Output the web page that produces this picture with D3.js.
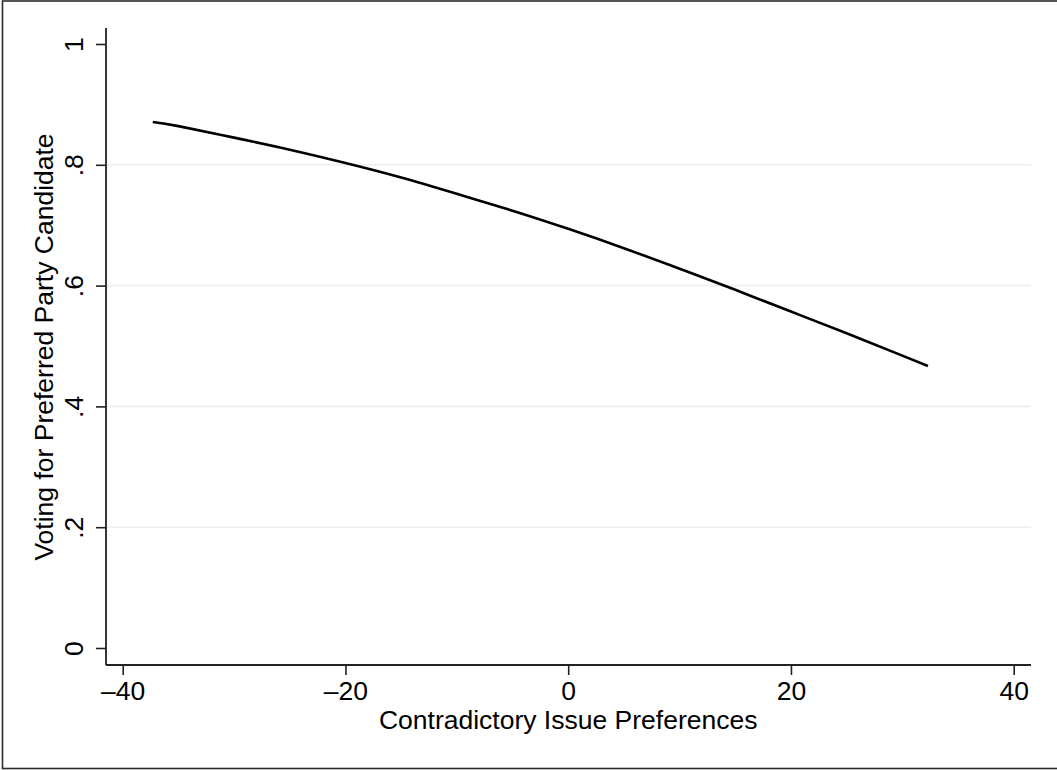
<!DOCTYPE html>
<html>
<head>
<meta charset="utf-8">
<script src="https://cdn.jsdelivr.net/npm/d3@7"></script>
<style>
  html, body { margin: 0; padding: 0; background: #fff; }
  svg { display: block; }
  text { font-family: "Liberation Sans", Arial, Helvetica, sans-serif; fill: #000; }
</style>
</head>
<body>
<svg id="chart" width="1057" height="770"></svg>
<script>
// ---- data ----
const xValues = [-37.3, -35, -30, -25, -20, -15, -10, -5, 0, 5, 10, 15, 20, 25, 30, 32.3];
const yValues = [0.871, 0.864, 0.845, 0.825, 0.803, 0.779, 0.752, 0.724, 0.694, 0.662, 0.628, 0.593, 0.557, 0.521, 0.484, 0.467];
const xTicks = [-40, -20, 0, 20, 40];
const yTicks = [0, 0.2, 0.4, 0.6, 0.8, 1];
const yTickLabels = ["0", ".2", ".4", ".6", ".8", "1"];
const gridTicks = [0.2, 0.4, 0.6, 0.8];
const xTitle = "Contradictory Issue Preferences";
const yTitle = "Voting for Preferred Party Candidate";

// ---- layout ----
const W = 1057, H = 770;
const plotLeft = 106, plotRight = 1031, plotTop = 28, plotBottom = 665;
const fontSize = 26.5;

const svg = d3.select("#chart");

// outer border (right edge cropped in the reference)
svg.append("rect")
  .attr("x", 2.5).attr("y", 1)
  .attr("width", W + 10).attr("height", 767.5)
  .attr("fill", "#fff").attr("stroke", "#2b2b2b").attr("stroke-width", 1.6);

const x = d3.scaleLinear().domain([-40, 40]).range([122.7, 1013.7]);
const y = d3.scaleLinear().domain([0, 1]).range([648, 44]);

// grid lines
svg.append("g").selectAll("line").data(gridTicks).join("line")
  .attr("x1", plotLeft).attr("x2", plotRight)
  .attr("y1", d => y(d)).attr("y2", d => y(d))
  .attr("stroke", "#e8f0f2").attr("stroke-width", 1.6);

// y axis
const yAxis = d3.axisLeft(y).tickValues(yTicks)
  .tickFormat((d, i) => yTickLabels[i]).tickSize(10).tickSizeOuter(0);
const gy = svg.append("g").attr("transform", `translate(${plotLeft},0)`).call(yAxis);
gy.select(".domain").remove();
gy.selectAll(".tick line").attr("stroke", "#222").attr("stroke-width", 1.6);
gy.selectAll(".tick text")
  .attr("font-size", fontSize)
  .attr("x", 0).attr("dy", null)
  .attr("text-anchor", "middle")
  .attr("transform", "translate(-23,0) rotate(-90)");
svg.append("line")
  .attr("x1", plotLeft).attr("x2", plotLeft)
  .attr("y1", plotTop).attr("y2", plotBottom)
  .attr("stroke", "#222").attr("stroke-width", 1.8);

// x axis
const xAxis = d3.axisBottom(x).tickValues(xTicks)
  .tickFormat(d => d < 0 ? "\u2013" + Math.abs(d) : String(d)).tickSize(10).tickSizeOuter(0);
const gx = svg.append("g").attr("transform", `translate(0,${plotBottom})`).call(xAxis);
gx.select(".domain").remove();
gx.selectAll(".tick line").attr("stroke", "#222").attr("stroke-width", 1.6);
gx.selectAll(".tick text")
  .attr("font-size", fontSize)
  .attr("y", 35).attr("dy", null);
svg.append("line")
  .attr("x1", plotLeft).attr("x2", plotRight)
  .attr("y1", plotBottom).attr("y2", plotBottom)
  .attr("stroke", "#222").attr("stroke-width", 1.8);

// titles
svg.append("text")
  .attr("x", x(0)).attr("y", 729)
  .attr("text-anchor", "middle")
  .attr("font-size", fontSize)
  .text(xTitle);
svg.append("text")
  .attr("transform", `translate(53,347) rotate(-90)`)
  .attr("text-anchor", "middle")
  .attr("font-size", fontSize)
  .text(yTitle);

// curve
const pts = xValues.map((v, i) => [v, yValues[i]]);
svg.append("path")
  .datum(pts)
  .attr("fill", "none")
  .attr("stroke", "#000")
  .attr("stroke-width", 2.6)
  .attr("d", d3.line().x(d => x(d[0])).y(d => y(d[1])).curve(d3.curveNatural));
</script>
</body>
</html>
